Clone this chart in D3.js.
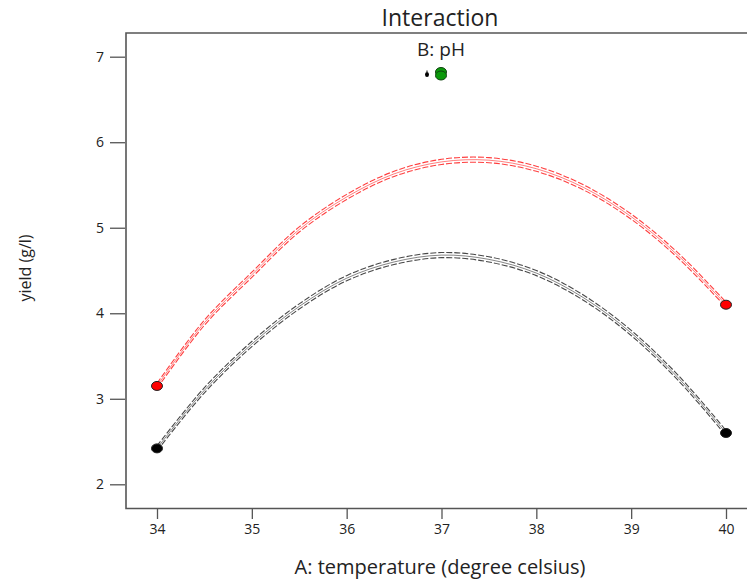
<!DOCTYPE html>
<html>
<head>
<meta charset="utf-8">
<script src="https://cdn.jsdelivr.net/npm/d3@7"></script>
<style>
  body { margin: 0; background: #fff; }
  text { font-family: "Open Sans", "Noto Sans", sans-serif; fill: #222; }
</style>
</head>
<body>
<div id="chart"></div>
<script>
var temps = [34, 34.5, 35, 35.5, 36, 36.5, 37, 37.5, 38, 38.5, 39, 39.5, 40];
// yield (g/l) for the two pH levels
var yieldRed   = [3.15, 3.89, 4.45, 4.98, 5.36, 5.63, 5.77, 5.79, 5.69, 5.47, 5.13, 4.67, 4.10];
var yieldBlack = [2.42, 3.10, 3.64, 4.08, 4.41, 4.60, 4.68, 4.63, 4.47, 4.18, 3.77, 3.24, 2.60];
var ciHalf = 0.03; // half width of the dashed band
var xTicks = [34, 35, 36, 37, 38, 39, 40];
var yTicks = [2, 3, 4, 5, 6, 7];

var W = 747, H = 581;
var svg = d3.select("#chart").append("svg")
  .attr("width", W).attr("height", H);

var x = d3.scaleLinear().domain([34, 40]).range([157, 726]);
var y = d3.scaleLinear().domain([2, 7]).range([484.3, 56.7]);

var frameL = 126, frameT = 33, frameB = 508.5;

// frame (right side runs off the picture)
svg.append("path")
  .attr("d", "M" + W + "," + frameT + "H" + frameL + "V" + frameB + "H" + W)
  .attr("fill", "none").attr("stroke", "#555").attr("stroke-width", 1.6);

// y axis ticks
var ya = svg.append("g").attr("transform", "translate(" + (frameL - 1) + ",0)")
  .call(d3.axisLeft(y).tickValues(yTicks).tickSize(15).tickPadding(6).tickFormat(d3.format("d")));
ya.select(".domain").remove();
ya.selectAll("line").attr("stroke", "#555").attr("stroke-width", 1.3);
ya.selectAll("text").attr("font-size", 14).style("font-family", "'Open Sans', sans-serif").attr("fill", "#222");

// x axis ticks
var xa = svg.append("g").attr("transform", "translate(0," + (frameB + 0.5) + ")")
  .call(d3.axisBottom(x).tickValues(xTicks).tickSize(10).tickPadding(5).tickFormat(d3.format("d")));
xa.select(".domain").remove();
xa.selectAll("line").attr("stroke", "#555").attr("stroke-width", 1.3);
xa.selectAll("text").attr("font-size", 14).style("font-family", "'Open Sans', sans-serif").attr("fill", "#222");

// titles
svg.append("text").attr("x", 440).attr("y", 26).attr("text-anchor", "middle")
  .attr("font-size", 23).text("Interaction");
svg.append("text").attr("x", 440).attr("y", 574).attr("text-anchor", "middle")
  .attr("font-size", 20).text("A: temperature (degree celsius)");
svg.append("text").attr("transform", "translate(31,268) rotate(-90)")
  .attr("text-anchor", "middle").attr("font-size", 16).text("yield (g/l)");

// legend
svg.append("text").attr("x", 441).attr("y", 56).attr("text-anchor", "middle")
  .attr("font-size", 19).text("B: pH");
svg.append("ellipse").attr("cx", 427).attr("cy", 74.5).attr("rx", 2).attr("ry", 2.5).attr("fill", "#000");
svg.append("rect").attr("x", 426.5).attr("y", 70.5).attr("width", 1).attr("height", 2).attr("fill", "#000");
svg.append("ellipse").attr("cx", 441).attr("cy", 72).attr("rx", 5.5).attr("ry", 4.5)
  .attr("fill", "#0b9a0b").attr("stroke", "#114411").attr("stroke-width", 1);
svg.append("ellipse").attr("cx", 441).attr("cy", 75.5).attr("rx", 5.5).attr("ry", 4.5)
  .attr("fill", "#0b9a0b").attr("stroke", "#114411").attr("stroke-width", 1);

var series = [
  { vals: yieldBlack, col: "#333333", fill: "#000000" },
  { vals: yieldRed,   col: "#ff2a2a", fill: "#ff0000" }
];

var line = d3.line().curve(d3.curveCatmullRom)
  .x(function(d) { return x(d[0]); })
  .y(function(d) { return y(d[1]); });

series.forEach(function(s) {
  var mid = temps.map(function(t, i) { return [t, s.vals[i]]; });
  var up = temps.map(function(t, i) { return [t, s.vals[i] + ciHalf]; });
  var lo = temps.map(function(t, i) { return [t, s.vals[i] - ciHalf]; });
  [up, lo].forEach(function(b) {
    svg.append("path").attr("d", line(b)).attr("fill", "none")
      .attr("stroke", s.col).attr("stroke-width", 1.1).attr("stroke-dasharray", "6,2").attr("opacity", 0.9);
  });
  svg.append("path").attr("d", line(mid)).attr("fill", "none")
    .attr("stroke", s.col).attr("stroke-width", 1).attr("opacity", 0.6);

  var ends = [0, temps.length - 1];
  svg.selectAll(null).data(ends).enter().append("ellipse")
    .attr("cx", function(i) { return x(temps[i]); })
    .attr("cy", function(i) { return y(s.vals[i]); })
    .attr("rx", 5.5).attr("ry", 4.5)
    .attr("fill", s.fill).attr("stroke", "#222").attr("stroke-width", 1);
});
</script>
</body>
</html>
